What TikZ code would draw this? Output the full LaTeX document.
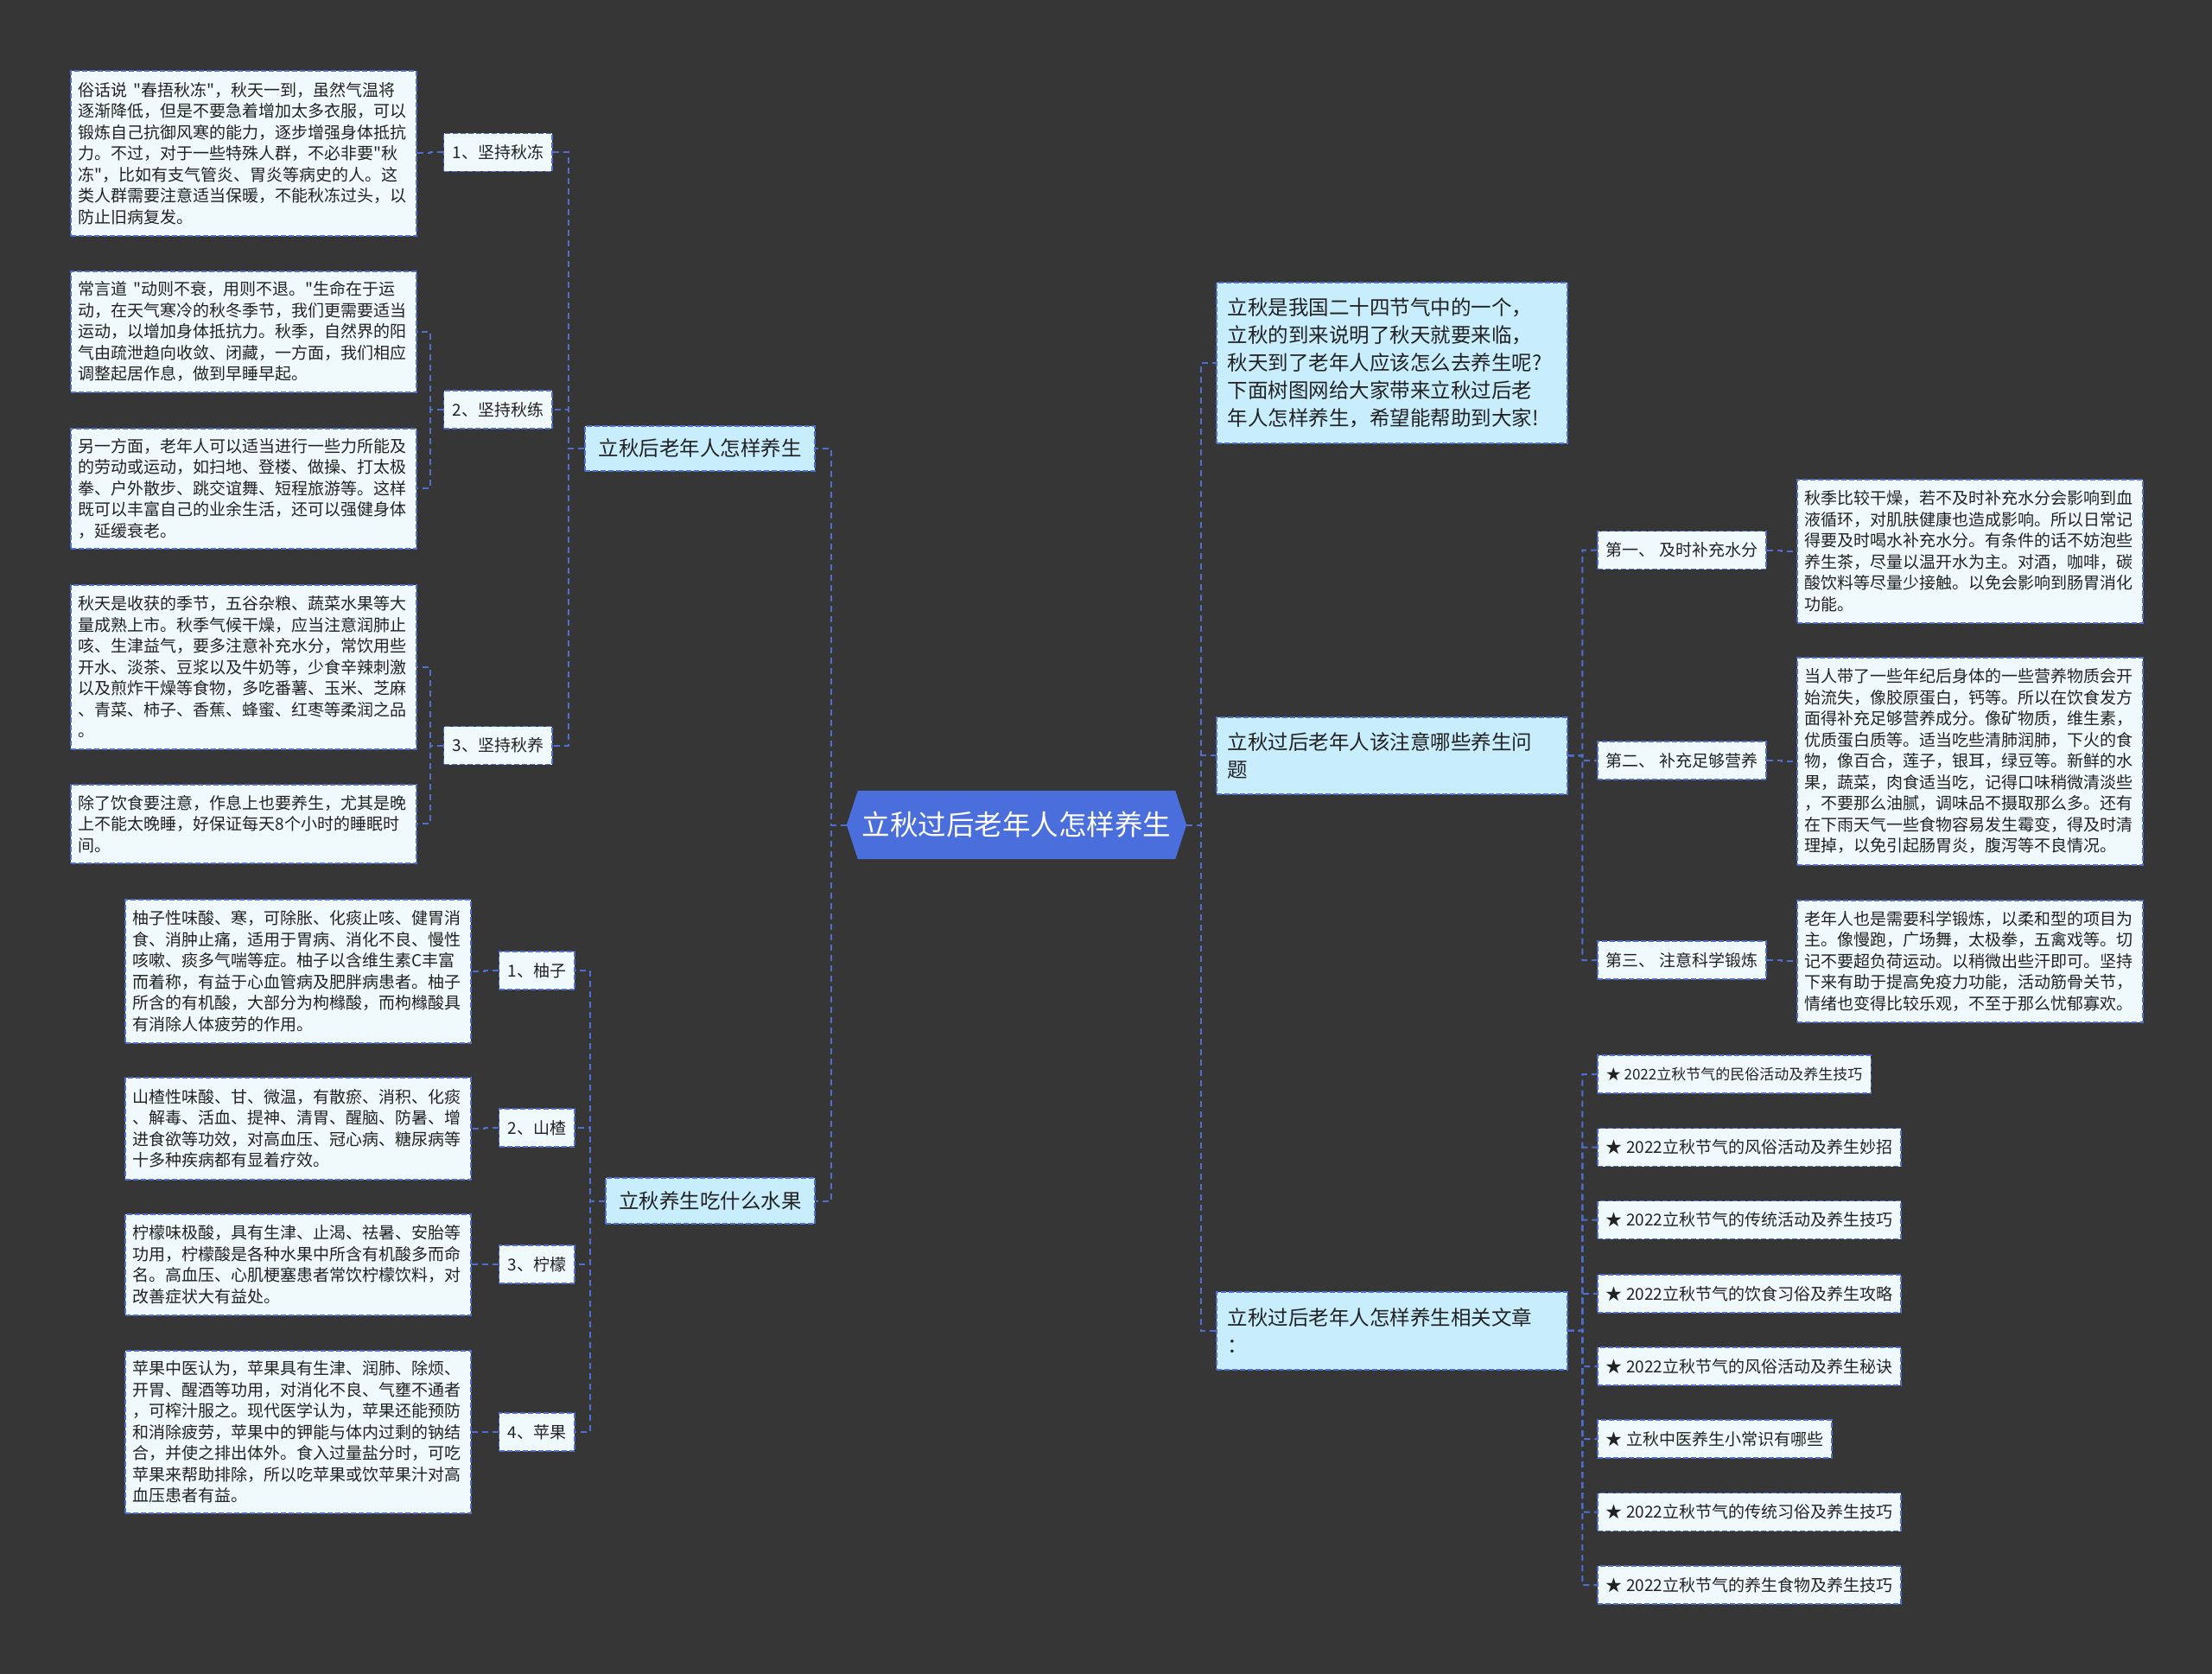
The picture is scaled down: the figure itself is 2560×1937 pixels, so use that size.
\documentclass[tikz,border=0pt]{standalone}
\usepackage{fontspec}
\setmainfont{Noto Sans CJK SC}[Ligatures=TeXOff]
\usetikzlibrary{calc,backgrounds}
\definecolor{bgc}{HTML}{363636}
\definecolor{lnc}{HTML}{4F6FD0}
\definecolor{detf}{HTML}{F0FAFD}
\definecolor{mainf}{HTML}{C8EDFD}
\definecolor{cenf}{HTML}{4A6EDB}
\definecolor{txc}{HTML}{222222}
\tikzset{
 conn/.style={draw=lnc, line width=2pt, dash pattern=on 7pt off 5pt},
 box/.style={draw=lnc, line width=1.6pt, dash pattern=on 6pt off 3pt, rectangle, inner xsep=9pt, inner ysep=0pt, align=left, text=txc},
 det/.style={box, fill=detf, font=\fontsize{19}{24.5}\selectfont, anchor=north west, text width=382pt},
 lbl/.style={box, fill=detf, font=\fontsize{19}{24}\selectfont, minimum height=44pt, inner xsep=10pt},
 mainb/.style={box, fill=mainf, font=\fontsize{23.5}{32}\selectfont, inner xsep=13pt},
}
\newcommand\elbowline[2]{\draw[conn] (#1) -- ($(#1)!.5!(#2 |- #1)$) |- (#2);}
\begin{document}
\begin{tikzpicture}[x=1pt,y=-1pt]
\useasboundingbox (0,0) rectangle (2560,1937);
% centre
\node[font=\fontsize{32.5}{38}\selectfont, text=white, minimum width=393pt, minimum height=79pt, inner sep=0pt] (c) at (1176.5,954.5) {立秋过后老年人怎样养生};
\begin{pgfonlayer}{background}
\fill[bgc] (0,0) rectangle (2560,1937);
\fill[cenf] (c.west) -- ([xshift=13pt]c.north west) -- ([xshift=-13pt]c.north east) -- (c.east) -- ([xshift=-13pt]c.south east) -- ([xshift=13pt]c.south west) -- cycle;
\end{pgfonlayer}

% left main branches
\node[mainb, anchor=east, minimum height=52pt, inner xsep=15.5pt] (L1) at (944,519) {立秋后老年人怎样养生};
\node[mainb, anchor=east, minimum height=53pt, inner xsep=15.5pt] (L2) at (944,1389.5) {立秋养生吃什么水果};

% left branch 1 labels
\node[lbl, anchor=east] (S1) at (640,176.5) {1、坚持秋冻};
\node[lbl, anchor=east] (S2) at (640,474) {2、坚持秋练};
\node[lbl, anchor=east] (S3) at (640,862.5) {3、坚持秋养};

% left branch 1 details
\node[det, minimum height=191pt] (D1) at (81,81) {俗话说~"春捂秋冻"，秋天一到，虽然气温将\\逐渐降低，但是不要急着增加太多衣服，可以\\锻炼自己抗御风寒的能力，逐步增强身体抵抗\\力。不过，对于一些特殊人群，不必非要"秋\\冻"，比如有支气管炎、胃炎等病史的人。这\\类人群需要注意适当保暖，不能秋冻过头，以\\防止旧病复发。};
\node[det, minimum height=140pt] (D2a) at (81,313) {常言道~"动则不衰，用则不退。"生命在于运\\动，在天气寒冷的秋冬季节，我们更需要适当\\运动，以增加身体抵抗力。秋季，自然界的阳\\气由疏泄趋向收敛、闭藏，一方面，我们相应\\调整起居作息，做到早睡早起。};
\node[det, minimum height=139pt] (D2b) at (81,495) {另一方面，老年人可以适当进行一些力所能及\\的劳动或运动，如扫地、登楼、做操、打太极\\拳、户外散步、跳交谊舞、短程旅游等。这样\\既可以丰富自己的业余生活，还可以强健身体\\，延缓衰老。};
\node[det, minimum height=190pt] (D3a) at (81,676) {秋天是收获的季节，五谷杂粮、蔬菜水果等大\\量成熟上市。秋季气候干燥，应当注意润肺止\\咳、生津益气，要多注意补充水分，常饮用些\\开水、淡茶、豆浆以及牛奶等，少食辛辣刺激\\以及煎炸干燥等食物，多吃番薯、玉米、芝麻\\、青菜、柿子、香蕉、蜂蜜、红枣等柔润之品\\。};
\node[det, minimum height=91pt] (D3b) at (81,907) {除了饮食要注意，作息上也要养生，尤其是晚\\上不能太晚睡，好保证每天8个小时的睡眠时\\间。};

% left branch 2 labels
\node[lbl, anchor=east] (F1) at (666,1123) {1、柚子};
\node[lbl, anchor=east] (F2) at (666,1305) {2、山楂};
\node[lbl, anchor=east] (F3) at (666,1463) {3、柠檬};
\node[lbl, anchor=east] (F4) at (666,1657) {4、苹果};

% left branch 2 details
\node[det, minimum height=166pt] (G1) at (144,1040) {柚子性味酸、寒，可除胀、化痰止咳、健胃消\\食、消肿止痛，适用于胃病、消化不良、慢性\\咳嗽、痰多气喘等症。柚子以含维生素C丰富\\而着称，有益于心血管病及肥胖病患者。柚子\\所含的有机酸，大部分为枸橼酸，而枸橼酸具\\有消除人体疲劳的作用。};
\node[det, minimum height=118pt] (G2) at (144,1246) {山楂性味酸、甘、微温，有散瘀、消积、化痰\\、解毒、活血、提神、清胃、醒脑、防暑、增\\进食欲等功效，对高血压、冠心病、糖尿病等\\十多种疾病都有显着疗效。};
\node[det, minimum height=117pt] (G3) at (144,1404) {柠檬味极酸，具有生津、止渴、祛暑、安胎等\\功用，柠檬酸是各种水果中所含有机酸多而命\\名。高血压、心肌梗塞患者常饮柠檬饮料，对\\改善症状大有益处。};
\node[det, minimum height=188pt] (G4) at (144,1562) {苹果中医认为，苹果具有生津、润肺、除烦、\\开胃、醒酒等功用，对消化不良、气壅不通者\\，可榨汁服之。现代医学认为，苹果还能预防\\和消除疲劳，苹果中的钾能与体内过剩的钠结\\合，并使之排出体外。食入过量盐分时，可吃\\苹果来帮助排除，所以吃苹果或饮苹果汁对高\\血压患者有益。};

% right main branches
\node[mainb, anchor=north west, text width=380pt, minimum height=186pt] (R0) at (1407,326) {立秋是我国二十四节气中的一个，\\立秋的到来说明了秋天就要来临，\\秋天到了老年人应该怎么去养生呢?\\下面树图网给大家带来立秋过后老\\年人怎样养生，希望能帮助到大家!};
\node[mainb, anchor=north west, text width=380pt, minimum height=89pt] (R1) at (1407,829) {立秋过后老年人该注意哪些养生问\\题};
\node[mainb, anchor=north west, text width=380pt, minimum height=90pt] (R2) at (1407,1494) {立秋过后老年人怎样养生相关文章\\：};

% right branch 1 labels
\node[lbl, anchor=west] (T1) at (1848,636.5) {第一、 及时补充水分};
\node[lbl, anchor=west] (T2) at (1848,880) {第二、 补充足够营养};
\node[lbl, anchor=west] (T3) at (1848,1111) {第三、 注意科学锻炼};

% right branch 1 details
\node[det, minimum height=166pt] (U1) at (2079,554) {秋季比较干燥，若不及时补充水分会影响到血\\液循环，对肌肤健康也造成影响。所以日常记\\得要及时喝水补充水分。有条件的话不妨泡些\\养生茶，尽量以温开水为主。对酒，咖啡，碳\\酸饮料等尽量少接触。以免会影响到肠胃消化\\功能。};
\node[det, minimum height=240pt] (U2) at (2079,760) {当人带了一些年纪后身体的一些营养物质会开\\始流失，像胶原蛋白，钙等。所以在饮食发方\\面得补充足够营养成分。像矿物质，维生素，\\优质蛋白质等。适当吃些清肺润肺，下火的食\\物，像百合，莲子，银耳，绿豆等。新鲜的水\\果，蔬菜，肉食适当吃，记得口味稍微清淡些\\，不要那么油腻，调味品不摄取那么多。还有\\在下雨天气一些食物容易发生霉变，得及时清\\理掉，以免引起肠胃炎，腹泻等不良情况。};
\node[det, minimum height=141pt] (U3) at (2079,1041) {老年人也是需要科学锻炼，以柔和型的项目为\\主。像慢跑，广场舞，太极拳，五禽戏等。切\\记不要超负荷运动。以稍微出些汗即可。坚持\\下来有助于提高免疫力功能，活动筋骨关节，\\情绪也变得比较乐观，不至于那么忧郁寡欢。};

% related articles
\node[lbl, anchor=west, font=\fontsize{17}{22}\selectfont] (A1) at (1848,1243) {★ 2022立秋节气的民俗活动及养生技巧};
\node[lbl, anchor=west] (A2) at (1848,1327.5) {★ 2022立秋节气的风俗活动及养生妙招};
\node[lbl, anchor=west] (A3) at (1848,1411.5) {★ 2022立秋节气的传统活动及养生技巧};
\node[lbl, anchor=west] (A4) at (1848,1497) {★ 2022立秋节气的饮食习俗及养生攻略};
\node[lbl, anchor=west] (A5) at (1848,1581) {★ 2022立秋节气的风俗活动及养生秘诀};
\node[lbl, anchor=west] (A6) at (1848,1665) {★ 立秋中医养生小常识有哪些};
\node[lbl, anchor=west] (A7) at (1848,1749.5) {★ 2022立秋节气的传统习俗及养生技巧};
\node[lbl, anchor=west] (A8) at (1848,1834) {★ 2022立秋节气的养生食物及养生技巧};

% connectors
\elbowline{c.west}{L1.east}
\elbowline{c.west}{L2.east}
\elbowline{L1.west}{S1.east}
\elbowline{L1.west}{S2.east}
\elbowline{L1.west}{S3.east}
\elbowline{S1.west}{D1.east}
\elbowline{S2.west}{D2a.east}
\elbowline{S2.west}{D2b.east}
\elbowline{S3.west}{D3a.east}
\elbowline{S3.west}{D3b.east}
\elbowline{L2.west}{F1.east}
\elbowline{L2.west}{F2.east}
\elbowline{L2.west}{F3.east}
\elbowline{L2.west}{F4.east}
\elbowline{F1.west}{G1.east}
\elbowline{F2.west}{G2.east}
\elbowline{F3.west}{G3.east}
\elbowline{F4.west}{G4.east}
\elbowline{c.east}{R0.west}
\elbowline{c.east}{R1.west}
\elbowline{c.east}{R2.west}
\elbowline{R1.east}{T1.west}
\elbowline{R1.east}{T2.west}
\elbowline{R1.east}{T3.west}
\elbowline{T1.east}{U1.west}
\elbowline{T2.east}{U2.west}
\elbowline{T3.east}{U3.west}
\elbowline{R2.east}{A1.west}
\elbowline{R2.east}{A2.west}
\elbowline{R2.east}{A3.west}
\elbowline{R2.east}{A4.west}
\elbowline{R2.east}{A5.west}
\elbowline{R2.east}{A6.west}
\elbowline{R2.east}{A7.west}
\elbowline{R2.east}{A8.west}
\end{tikzpicture}
\end{document}
